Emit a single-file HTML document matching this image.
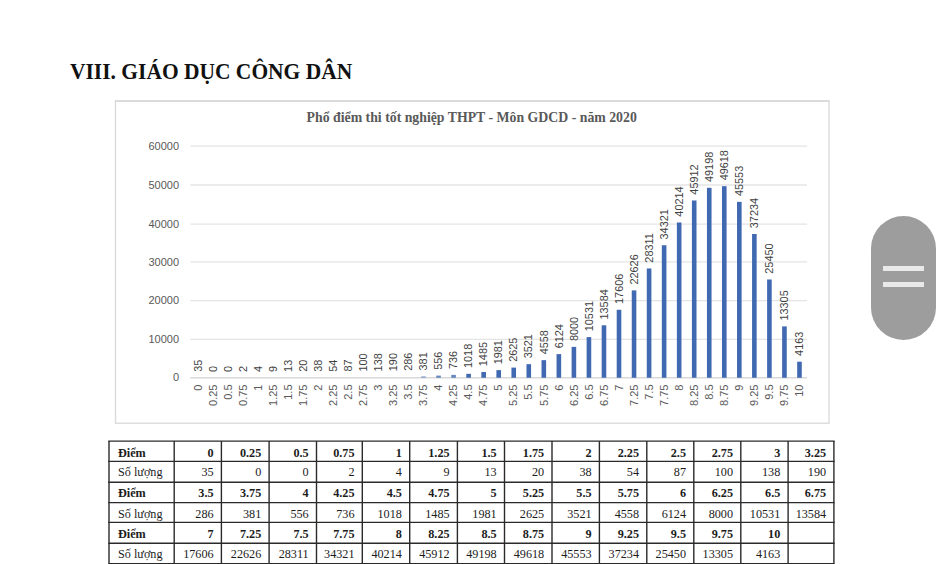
<!DOCTYPE html>
<html><head><meta charset="utf-8"><title>GDCD</title>
<style>
html,body{margin:0;padding:0;background:#fff;}
body{width:945px;height:564px;position:relative;overflow:hidden;font-family:"Liberation Serif",serif;}
h1{position:absolute;left:70px;top:59px;margin:0;font-family:"Liberation Serif",serif;font-weight:bold;font-size:22.2px;line-height:26px;color:#111;white-space:nowrap;transform-origin:0 0;transform:scaleX(0.968);}
.pill{position:absolute;left:871.4px;top:216px;width:65px;height:123.5px;border-radius:32.5px;background:#9d9d9d;}
.pill i{position:absolute;left:11.5px;width:41.5px;height:5px;background:#e9e9e9;}
</style></head><body>
<h1>VIII. GIÁO DỤC CÔNG DÂN</h1>
<svg width="945" height="564" viewBox="0 0 945 564" style="position:absolute;left:0;top:0">
<rect x="115.5" y="101" width="713.5" height="322.3" fill="#ffffff" stroke="none"/>
<line x1="114.8" y1="101" x2="829.7" y2="101" stroke="#cfcfcf" stroke-width="1.6"/>
<line x1="115.5" y1="101" x2="115.5" y2="423.3" stroke="#dadada" stroke-width="1.4"/>
<line x1="829" y1="101" x2="829" y2="423.3" stroke="#dcdcdc" stroke-width="1.4"/>
<line x1="114.8" y1="423.3" x2="829.7" y2="423.3" stroke="#dedede" stroke-width="1.4"/>
<line x1="190.4" y1="377.75" x2="807.0" y2="377.75" stroke="#d8d8d8" stroke-width="1.3"/>
<text x="179" y="380.75" text-anchor="end" font-size="11.0" fill="#595959" font-family="Liberation Sans, sans-serif">0</text>
<line x1="190.4" y1="339.40" x2="807.0" y2="339.40" stroke="#e4e4e4" stroke-width="1.3"/>
<text x="179" y="343.20" text-anchor="end" font-size="11.0" fill="#595959" font-family="Liberation Sans, sans-serif">10000</text>
<line x1="190.4" y1="300.55" x2="807.0" y2="300.55" stroke="#e4e4e4" stroke-width="1.3"/>
<text x="179" y="304.35" text-anchor="end" font-size="11.0" fill="#595959" font-family="Liberation Sans, sans-serif">20000</text>
<line x1="190.4" y1="261.95" x2="807.0" y2="261.95" stroke="#e4e4e4" stroke-width="1.3"/>
<text x="179" y="265.75" text-anchor="end" font-size="11.0" fill="#595959" font-family="Liberation Sans, sans-serif">30000</text>
<line x1="190.4" y1="224.10" x2="807.0" y2="224.10" stroke="#e4e4e4" stroke-width="1.3"/>
<text x="179" y="227.90" text-anchor="end" font-size="11.0" fill="#595959" font-family="Liberation Sans, sans-serif">40000</text>
<line x1="190.4" y1="185.00" x2="807.0" y2="185.00" stroke="#e4e4e4" stroke-width="1.3"/>
<text x="179" y="188.80" text-anchor="end" font-size="11.0" fill="#595959" font-family="Liberation Sans, sans-serif">50000</text>
<line x1="190.4" y1="146.07" x2="807.0" y2="146.07" stroke="#e4e4e4" stroke-width="1.3"/>
<text x="179" y="149.87" text-anchor="end" font-size="11.0" fill="#595959" font-family="Liberation Sans, sans-serif">60000</text>
<text transform="translate(201.62,371.81) rotate(-90)" font-size="10.9" fill="#404040" font-family="Liberation Sans, sans-serif">35</text>
<text transform="translate(201.62,384.5) rotate(-90)" text-anchor="end" font-size="11.0" fill="#595959" font-family="Liberation Sans, sans-serif">0</text>
<text transform="translate(216.66,371.95) rotate(-90)" font-size="10.9" fill="#404040" font-family="Liberation Sans, sans-serif">0</text>
<text transform="translate(216.66,384.5) rotate(-90)" text-anchor="end" font-size="11.0" fill="#595959" font-family="Liberation Sans, sans-serif">0.25</text>
<text transform="translate(231.70,371.95) rotate(-90)" font-size="10.9" fill="#404040" font-family="Liberation Sans, sans-serif">0</text>
<text transform="translate(231.70,384.5) rotate(-90)" text-anchor="end" font-size="11.0" fill="#595959" font-family="Liberation Sans, sans-serif">0.5</text>
<text transform="translate(246.74,371.94) rotate(-90)" font-size="10.9" fill="#404040" font-family="Liberation Sans, sans-serif">2</text>
<text transform="translate(246.74,384.5) rotate(-90)" text-anchor="end" font-size="11.0" fill="#595959" font-family="Liberation Sans, sans-serif">0.75</text>
<text transform="translate(261.78,371.93) rotate(-90)" font-size="10.9" fill="#404040" font-family="Liberation Sans, sans-serif">4</text>
<text transform="translate(261.78,384.5) rotate(-90)" text-anchor="end" font-size="11.0" fill="#595959" font-family="Liberation Sans, sans-serif">1</text>
<text transform="translate(276.81,371.92) rotate(-90)" font-size="10.9" fill="#404040" font-family="Liberation Sans, sans-serif">9</text>
<text transform="translate(276.81,384.5) rotate(-90)" text-anchor="end" font-size="11.0" fill="#595959" font-family="Liberation Sans, sans-serif">1.25</text>
<text transform="translate(291.85,371.90) rotate(-90)" font-size="10.9" fill="#404040" font-family="Liberation Sans, sans-serif">13</text>
<text transform="translate(291.85,384.5) rotate(-90)" text-anchor="end" font-size="11.0" fill="#595959" font-family="Liberation Sans, sans-serif">1.5</text>
<text transform="translate(306.89,371.87) rotate(-90)" font-size="10.9" fill="#404040" font-family="Liberation Sans, sans-serif">20</text>
<text transform="translate(306.89,384.5) rotate(-90)" text-anchor="end" font-size="11.0" fill="#595959" font-family="Liberation Sans, sans-serif">1.75</text>
<text transform="translate(321.93,371.80) rotate(-90)" font-size="10.9" fill="#404040" font-family="Liberation Sans, sans-serif">38</text>
<text transform="translate(321.93,384.5) rotate(-90)" text-anchor="end" font-size="11.0" fill="#595959" font-family="Liberation Sans, sans-serif">2</text>
<text transform="translate(336.97,371.74) rotate(-90)" font-size="10.9" fill="#404040" font-family="Liberation Sans, sans-serif">54</text>
<text transform="translate(336.97,384.5) rotate(-90)" text-anchor="end" font-size="11.0" fill="#595959" font-family="Liberation Sans, sans-serif">2.25</text>
<text transform="translate(352.01,371.61) rotate(-90)" font-size="10.9" fill="#404040" font-family="Liberation Sans, sans-serif">87</text>
<text transform="translate(352.01,384.5) rotate(-90)" text-anchor="end" font-size="11.0" fill="#595959" font-family="Liberation Sans, sans-serif">2.5</text>
<text transform="translate(367.05,371.56) rotate(-90)" font-size="10.9" fill="#404040" font-family="Liberation Sans, sans-serif">100</text>
<text transform="translate(367.05,384.5) rotate(-90)" text-anchor="end" font-size="11.0" fill="#595959" font-family="Liberation Sans, sans-serif">2.75</text>
<text transform="translate(382.09,371.42) rotate(-90)" font-size="10.9" fill="#404040" font-family="Liberation Sans, sans-serif">138</text>
<text transform="translate(382.09,384.5) rotate(-90)" text-anchor="end" font-size="11.0" fill="#595959" font-family="Liberation Sans, sans-serif">3</text>
<text transform="translate(397.13,371.22) rotate(-90)" font-size="10.9" fill="#404040" font-family="Liberation Sans, sans-serif">190</text>
<text transform="translate(397.13,384.5) rotate(-90)" text-anchor="end" font-size="11.0" fill="#595959" font-family="Liberation Sans, sans-serif">3.25</text>
<text transform="translate(412.17,370.85) rotate(-90)" font-size="10.9" fill="#404040" font-family="Liberation Sans, sans-serif">286</text>
<text transform="translate(412.17,384.5) rotate(-90)" text-anchor="end" font-size="11.0" fill="#595959" font-family="Liberation Sans, sans-serif">3.5</text>
<rect x="421.20" y="376.28" width="4.6" height="1.47" fill="#4169b1" fill-opacity="0.55"/>
<text transform="translate(427.20,370.48) rotate(-90)" font-size="10.9" fill="#404040" font-family="Liberation Sans, sans-serif">381</text>
<text transform="translate(427.20,384.5) rotate(-90)" text-anchor="end" font-size="11.0" fill="#595959" font-family="Liberation Sans, sans-serif">3.75</text>
<rect x="436.24" y="375.60" width="4.6" height="2.15" fill="#4169b1" fill-opacity="0.8"/>
<text transform="translate(442.24,369.80) rotate(-90)" font-size="10.9" fill="#404040" font-family="Liberation Sans, sans-serif">556</text>
<text transform="translate(442.24,384.5) rotate(-90)" text-anchor="end" font-size="11.0" fill="#595959" font-family="Liberation Sans, sans-serif">4</text>
<rect x="451.28" y="374.91" width="4.6" height="2.84" fill="#4169b1" fill-opacity="0.8"/>
<text transform="translate(457.28,369.11) rotate(-90)" font-size="10.9" fill="#404040" font-family="Liberation Sans, sans-serif">736</text>
<text transform="translate(457.28,384.5) rotate(-90)" text-anchor="end" font-size="11.0" fill="#595959" font-family="Liberation Sans, sans-serif">4.25</text>
<rect x="466.32" y="373.82" width="4.6" height="3.93" fill="#4169b1" fill-opacity="1"/>
<text transform="translate(472.32,368.02) rotate(-90)" font-size="10.9" fill="#404040" font-family="Liberation Sans, sans-serif">1018</text>
<text transform="translate(472.32,384.5) rotate(-90)" text-anchor="end" font-size="11.0" fill="#595959" font-family="Liberation Sans, sans-serif">4.5</text>
<rect x="481.36" y="372.02" width="4.6" height="5.73" fill="#4169b1" fill-opacity="1"/>
<text transform="translate(487.36,366.22) rotate(-90)" font-size="10.9" fill="#404040" font-family="Liberation Sans, sans-serif">1485</text>
<text transform="translate(487.36,384.5) rotate(-90)" text-anchor="end" font-size="11.0" fill="#595959" font-family="Liberation Sans, sans-serif">4.75</text>
<rect x="496.40" y="370.10" width="4.6" height="7.65" fill="#4169b1" fill-opacity="1"/>
<text transform="translate(502.40,364.30) rotate(-90)" font-size="10.9" fill="#404040" font-family="Liberation Sans, sans-serif">1981</text>
<text transform="translate(502.40,384.5) rotate(-90)" text-anchor="end" font-size="11.0" fill="#595959" font-family="Liberation Sans, sans-serif">5</text>
<rect x="511.44" y="367.61" width="4.6" height="10.14" fill="#4169b1" fill-opacity="1"/>
<text transform="translate(517.44,361.81) rotate(-90)" font-size="10.9" fill="#404040" font-family="Liberation Sans, sans-serif">2625</text>
<text transform="translate(517.44,384.5) rotate(-90)" text-anchor="end" font-size="11.0" fill="#595959" font-family="Liberation Sans, sans-serif">5.25</text>
<rect x="526.48" y="364.16" width="4.6" height="13.59" fill="#4169b1" fill-opacity="1"/>
<text transform="translate(532.48,358.36) rotate(-90)" font-size="10.9" fill="#404040" font-family="Liberation Sans, sans-serif">3521</text>
<text transform="translate(532.48,384.5) rotate(-90)" text-anchor="end" font-size="11.0" fill="#595959" font-family="Liberation Sans, sans-serif">5.5</text>
<rect x="541.52" y="360.15" width="4.6" height="17.60" fill="#4169b1" fill-opacity="1"/>
<text transform="translate(547.52,354.35) rotate(-90)" font-size="10.9" fill="#404040" font-family="Liberation Sans, sans-serif">4558</text>
<text transform="translate(547.52,384.5) rotate(-90)" text-anchor="end" font-size="11.0" fill="#595959" font-family="Liberation Sans, sans-serif">5.75</text>
<rect x="556.56" y="354.11" width="4.6" height="23.64" fill="#4169b1" fill-opacity="1"/>
<text transform="translate(562.56,348.31) rotate(-90)" font-size="10.9" fill="#404040" font-family="Liberation Sans, sans-serif">6124</text>
<text transform="translate(562.56,384.5) rotate(-90)" text-anchor="end" font-size="11.0" fill="#595959" font-family="Liberation Sans, sans-serif">6</text>
<rect x="571.60" y="346.86" width="4.6" height="30.89" fill="#4169b1" fill-opacity="1"/>
<text transform="translate(577.60,341.06) rotate(-90)" font-size="10.9" fill="#404040" font-family="Liberation Sans, sans-serif">8000</text>
<text transform="translate(577.60,384.5) rotate(-90)" text-anchor="end" font-size="11.0" fill="#595959" font-family="Liberation Sans, sans-serif">6.25</text>
<rect x="586.63" y="337.09" width="4.6" height="40.66" fill="#4169b1" fill-opacity="1"/>
<text transform="translate(592.63,331.29) rotate(-90)" font-size="10.9" fill="#404040" font-family="Liberation Sans, sans-serif">10531</text>
<text transform="translate(592.63,384.5) rotate(-90)" text-anchor="end" font-size="11.0" fill="#595959" font-family="Liberation Sans, sans-serif">6.5</text>
<rect x="601.67" y="325.30" width="4.6" height="52.45" fill="#4169b1" fill-opacity="1"/>
<text transform="translate(607.67,319.50) rotate(-90)" font-size="10.9" fill="#404040" font-family="Liberation Sans, sans-serif">13584</text>
<text transform="translate(607.67,384.5) rotate(-90)" text-anchor="end" font-size="11.0" fill="#595959" font-family="Liberation Sans, sans-serif">6.75</text>
<rect x="616.71" y="309.77" width="4.6" height="67.98" fill="#4169b1" fill-opacity="1"/>
<text transform="translate(622.71,303.97) rotate(-90)" font-size="10.9" fill="#404040" font-family="Liberation Sans, sans-serif">17606</text>
<text transform="translate(622.71,384.5) rotate(-90)" text-anchor="end" font-size="11.0" fill="#595959" font-family="Liberation Sans, sans-serif">7</text>
<rect x="631.75" y="290.39" width="4.6" height="87.36" fill="#4169b1" fill-opacity="1"/>
<text transform="translate(637.75,284.59) rotate(-90)" font-size="10.9" fill="#404040" font-family="Liberation Sans, sans-serif">22626</text>
<text transform="translate(637.75,384.5) rotate(-90)" text-anchor="end" font-size="11.0" fill="#595959" font-family="Liberation Sans, sans-serif">7.25</text>
<rect x="646.79" y="268.44" width="4.6" height="109.31" fill="#4169b1" fill-opacity="1"/>
<text transform="translate(652.79,262.64) rotate(-90)" font-size="10.9" fill="#404040" font-family="Liberation Sans, sans-serif">28311</text>
<text transform="translate(652.79,384.5) rotate(-90)" text-anchor="end" font-size="11.0" fill="#595959" font-family="Liberation Sans, sans-serif">7.5</text>
<rect x="661.83" y="245.24" width="4.6" height="132.51" fill="#4169b1" fill-opacity="1"/>
<text transform="translate(667.83,239.44) rotate(-90)" font-size="10.9" fill="#404040" font-family="Liberation Sans, sans-serif">34321</text>
<text transform="translate(667.83,384.5) rotate(-90)" text-anchor="end" font-size="11.0" fill="#595959" font-family="Liberation Sans, sans-serif">7.75</text>
<rect x="676.87" y="222.48" width="4.6" height="155.27" fill="#4169b1" fill-opacity="1"/>
<text transform="translate(682.87,216.68) rotate(-90)" font-size="10.9" fill="#404040" font-family="Liberation Sans, sans-serif">40214</text>
<text transform="translate(682.87,384.5) rotate(-90)" text-anchor="end" font-size="11.0" fill="#595959" font-family="Liberation Sans, sans-serif">8</text>
<rect x="691.91" y="200.48" width="4.6" height="177.27" fill="#4169b1" fill-opacity="1"/>
<text transform="translate(697.91,194.68) rotate(-90)" font-size="10.9" fill="#404040" font-family="Liberation Sans, sans-serif">45912</text>
<text transform="translate(697.91,384.5) rotate(-90)" text-anchor="end" font-size="11.0" fill="#595959" font-family="Liberation Sans, sans-serif">8.25</text>
<rect x="706.95" y="187.80" width="4.6" height="189.95" fill="#4169b1" fill-opacity="1"/>
<text transform="translate(712.95,182.00) rotate(-90)" font-size="10.9" fill="#404040" font-family="Liberation Sans, sans-serif">49198</text>
<text transform="translate(712.95,384.5) rotate(-90)" text-anchor="end" font-size="11.0" fill="#595959" font-family="Liberation Sans, sans-serif">8.5</text>
<rect x="721.99" y="186.17" width="4.6" height="191.58" fill="#4169b1" fill-opacity="1"/>
<text transform="translate(727.99,180.37) rotate(-90)" font-size="10.9" fill="#404040" font-family="Liberation Sans, sans-serif">49618</text>
<text transform="translate(727.99,384.5) rotate(-90)" text-anchor="end" font-size="11.0" fill="#595959" font-family="Liberation Sans, sans-serif">8.75</text>
<rect x="737.02" y="201.87" width="4.6" height="175.88" fill="#4169b1" fill-opacity="1"/>
<text transform="translate(743.02,196.07) rotate(-90)" font-size="10.9" fill="#404040" font-family="Liberation Sans, sans-serif">45553</text>
<text transform="translate(743.02,384.5) rotate(-90)" text-anchor="end" font-size="11.0" fill="#595959" font-family="Liberation Sans, sans-serif">9</text>
<rect x="752.06" y="233.99" width="4.6" height="143.76" fill="#4169b1" fill-opacity="1"/>
<text transform="translate(758.06,228.19) rotate(-90)" font-size="10.9" fill="#404040" font-family="Liberation Sans, sans-serif">37234</text>
<text transform="translate(758.06,384.5) rotate(-90)" text-anchor="end" font-size="11.0" fill="#595959" font-family="Liberation Sans, sans-serif">9.25</text>
<rect x="767.10" y="279.49" width="4.6" height="98.26" fill="#4169b1" fill-opacity="1"/>
<text transform="translate(773.10,273.69) rotate(-90)" font-size="10.9" fill="#404040" font-family="Liberation Sans, sans-serif">25450</text>
<text transform="translate(773.10,384.5) rotate(-90)" text-anchor="end" font-size="11.0" fill="#595959" font-family="Liberation Sans, sans-serif">9.5</text>
<rect x="782.14" y="326.38" width="4.6" height="51.37" fill="#4169b1" fill-opacity="1"/>
<text transform="translate(788.14,320.58) rotate(-90)" font-size="10.9" fill="#404040" font-family="Liberation Sans, sans-serif">13305</text>
<text transform="translate(788.14,384.5) rotate(-90)" text-anchor="end" font-size="11.0" fill="#595959" font-family="Liberation Sans, sans-serif">9.75</text>
<rect x="797.18" y="361.68" width="4.6" height="16.07" fill="#4169b1" fill-opacity="1"/>
<text transform="translate(803.18,355.88) rotate(-90)" font-size="10.9" fill="#404040" font-family="Liberation Sans, sans-serif">4163</text>
<text transform="translate(803.18,384.5) rotate(-90)" text-anchor="end" font-size="11.0" fill="#595959" font-family="Liberation Sans, sans-serif">10</text>
<text x="471.7" y="122.2" text-anchor="middle" font-size="13.8" font-weight="bold" fill="#595959" font-family="Liberation Serif, serif">Phổ điểm thi tốt nghiệp THPT - Môn GDCD - năm 2020</text>
</svg>
<svg width="945" height="564" viewBox="0 0 945 564" style="position:absolute;left:0;top:0">
<line x1="108.3" y1="441.10" x2="834.6" y2="441.10" stroke="#2a2a2a" stroke-width="1.4"/>
<line x1="108.3" y1="461.40" x2="834.6" y2="461.40" stroke="#2a2a2a" stroke-width="1.4"/>
<line x1="108.3" y1="482.30" x2="834.6" y2="482.30" stroke="#2a2a2a" stroke-width="1.4"/>
<line x1="108.3" y1="502.60" x2="834.6" y2="502.60" stroke="#2a2a2a" stroke-width="1.4"/>
<line x1="108.3" y1="522.40" x2="834.6" y2="522.40" stroke="#2a2a2a" stroke-width="1.4"/>
<line x1="108.3" y1="543.20" x2="834.6" y2="543.20" stroke="#2a2a2a" stroke-width="1.4"/>
<line x1="108.3" y1="563.60" x2="834.6" y2="563.60" stroke="#2a2a2a" stroke-width="1.4"/>
<line x1="109.00" y1="441.1" x2="109.00" y2="563.60" stroke="#2a2a2a" stroke-width="1.4"/>
<line x1="174.20" y1="441.1" x2="174.20" y2="563.60" stroke="#2a2a2a" stroke-width="1.4"/>
<line x1="221.40" y1="441.1" x2="221.40" y2="563.60" stroke="#2a2a2a" stroke-width="1.4"/>
<line x1="269.10" y1="441.1" x2="269.10" y2="563.60" stroke="#2a2a2a" stroke-width="1.4"/>
<line x1="316.50" y1="441.1" x2="316.50" y2="563.60" stroke="#2a2a2a" stroke-width="1.4"/>
<line x1="362.30" y1="441.1" x2="362.30" y2="563.60" stroke="#2a2a2a" stroke-width="1.4"/>
<line x1="409.70" y1="441.1" x2="409.70" y2="563.60" stroke="#2a2a2a" stroke-width="1.4"/>
<line x1="457.40" y1="441.1" x2="457.40" y2="563.60" stroke="#2a2a2a" stroke-width="1.4"/>
<line x1="504.50" y1="441.1" x2="504.50" y2="563.60" stroke="#2a2a2a" stroke-width="1.4"/>
<line x1="552.00" y1="441.1" x2="552.00" y2="563.60" stroke="#2a2a2a" stroke-width="1.4"/>
<line x1="599.40" y1="441.1" x2="599.40" y2="563.60" stroke="#2a2a2a" stroke-width="1.4"/>
<line x1="646.80" y1="441.1" x2="646.80" y2="563.60" stroke="#2a2a2a" stroke-width="1.4"/>
<line x1="693.80" y1="441.1" x2="693.80" y2="563.60" stroke="#2a2a2a" stroke-width="1.4"/>
<line x1="740.80" y1="441.1" x2="740.80" y2="563.60" stroke="#2a2a2a" stroke-width="1.4"/>
<line x1="788.10" y1="441.1" x2="788.10" y2="563.60" stroke="#2a2a2a" stroke-width="1.4"/>
<line x1="833.90" y1="441.1" x2="833.90" y2="563.60" stroke="#2a2a2a" stroke-width="1.4"/>
<text x="118.00" y="456.70" font-size="12.2" font-weight="bold" fill="#1c1c1c" font-family="Liberation Serif, serif">Điểm</text>
<text x="213.60" y="456.70" text-anchor="end" font-size="12.2" font-weight="bold" fill="#1c1c1c" font-family="Liberation Serif, serif">0</text>
<text x="261.30" y="456.70" text-anchor="end" font-size="12.2" font-weight="bold" fill="#1c1c1c" font-family="Liberation Serif, serif">0.25</text>
<text x="308.70" y="456.70" text-anchor="end" font-size="12.2" font-weight="bold" fill="#1c1c1c" font-family="Liberation Serif, serif">0.5</text>
<text x="354.50" y="456.70" text-anchor="end" font-size="12.2" font-weight="bold" fill="#1c1c1c" font-family="Liberation Serif, serif">0.75</text>
<text x="401.90" y="456.70" text-anchor="end" font-size="12.2" font-weight="bold" fill="#1c1c1c" font-family="Liberation Serif, serif">1</text>
<text x="449.60" y="456.70" text-anchor="end" font-size="12.2" font-weight="bold" fill="#1c1c1c" font-family="Liberation Serif, serif">1.25</text>
<text x="496.70" y="456.70" text-anchor="end" font-size="12.2" font-weight="bold" fill="#1c1c1c" font-family="Liberation Serif, serif">1.5</text>
<text x="544.20" y="456.70" text-anchor="end" font-size="12.2" font-weight="bold" fill="#1c1c1c" font-family="Liberation Serif, serif">1.75</text>
<text x="591.60" y="456.70" text-anchor="end" font-size="12.2" font-weight="bold" fill="#1c1c1c" font-family="Liberation Serif, serif">2</text>
<text x="639.00" y="456.70" text-anchor="end" font-size="12.2" font-weight="bold" fill="#1c1c1c" font-family="Liberation Serif, serif">2.25</text>
<text x="686.00" y="456.70" text-anchor="end" font-size="12.2" font-weight="bold" fill="#1c1c1c" font-family="Liberation Serif, serif">2.5</text>
<text x="733.00" y="456.70" text-anchor="end" font-size="12.2" font-weight="bold" fill="#1c1c1c" font-family="Liberation Serif, serif">2.75</text>
<text x="780.30" y="456.70" text-anchor="end" font-size="12.2" font-weight="bold" fill="#1c1c1c" font-family="Liberation Serif, serif">3</text>
<text x="826.10" y="456.70" text-anchor="end" font-size="12.2" font-weight="bold" fill="#1c1c1c" font-family="Liberation Serif, serif">3.25</text>
<text x="118.00" y="476.30" font-size="12.2"  fill="#1c1c1c" font-family="Liberation Serif, serif">Số lượng</text>
<text x="213.60" y="476.30" text-anchor="end" font-size="12.2"  fill="#1c1c1c" font-family="Liberation Serif, serif">35</text>
<text x="261.30" y="476.30" text-anchor="end" font-size="12.2"  fill="#1c1c1c" font-family="Liberation Serif, serif">0</text>
<text x="308.70" y="476.30" text-anchor="end" font-size="12.2"  fill="#1c1c1c" font-family="Liberation Serif, serif">0</text>
<text x="354.50" y="476.30" text-anchor="end" font-size="12.2"  fill="#1c1c1c" font-family="Liberation Serif, serif">2</text>
<text x="401.90" y="476.30" text-anchor="end" font-size="12.2"  fill="#1c1c1c" font-family="Liberation Serif, serif">4</text>
<text x="449.60" y="476.30" text-anchor="end" font-size="12.2"  fill="#1c1c1c" font-family="Liberation Serif, serif">9</text>
<text x="496.70" y="476.30" text-anchor="end" font-size="12.2"  fill="#1c1c1c" font-family="Liberation Serif, serif">13</text>
<text x="544.20" y="476.30" text-anchor="end" font-size="12.2"  fill="#1c1c1c" font-family="Liberation Serif, serif">20</text>
<text x="591.60" y="476.30" text-anchor="end" font-size="12.2"  fill="#1c1c1c" font-family="Liberation Serif, serif">38</text>
<text x="639.00" y="476.30" text-anchor="end" font-size="12.2"  fill="#1c1c1c" font-family="Liberation Serif, serif">54</text>
<text x="686.00" y="476.30" text-anchor="end" font-size="12.2"  fill="#1c1c1c" font-family="Liberation Serif, serif">87</text>
<text x="733.00" y="476.30" text-anchor="end" font-size="12.2"  fill="#1c1c1c" font-family="Liberation Serif, serif">100</text>
<text x="780.30" y="476.30" text-anchor="end" font-size="12.2"  fill="#1c1c1c" font-family="Liberation Serif, serif">138</text>
<text x="826.10" y="476.30" text-anchor="end" font-size="12.2"  fill="#1c1c1c" font-family="Liberation Serif, serif">190</text>
<text x="118.00" y="496.90" font-size="12.2" font-weight="bold" fill="#1c1c1c" font-family="Liberation Serif, serif">Điểm</text>
<text x="213.60" y="496.90" text-anchor="end" font-size="12.2" font-weight="bold" fill="#1c1c1c" font-family="Liberation Serif, serif">3.5</text>
<text x="261.30" y="496.90" text-anchor="end" font-size="12.2" font-weight="bold" fill="#1c1c1c" font-family="Liberation Serif, serif">3.75</text>
<text x="308.70" y="496.90" text-anchor="end" font-size="12.2" font-weight="bold" fill="#1c1c1c" font-family="Liberation Serif, serif">4</text>
<text x="354.50" y="496.90" text-anchor="end" font-size="12.2" font-weight="bold" fill="#1c1c1c" font-family="Liberation Serif, serif">4.25</text>
<text x="401.90" y="496.90" text-anchor="end" font-size="12.2" font-weight="bold" fill="#1c1c1c" font-family="Liberation Serif, serif">4.5</text>
<text x="449.60" y="496.90" text-anchor="end" font-size="12.2" font-weight="bold" fill="#1c1c1c" font-family="Liberation Serif, serif">4.75</text>
<text x="496.70" y="496.90" text-anchor="end" font-size="12.2" font-weight="bold" fill="#1c1c1c" font-family="Liberation Serif, serif">5</text>
<text x="544.20" y="496.90" text-anchor="end" font-size="12.2" font-weight="bold" fill="#1c1c1c" font-family="Liberation Serif, serif">5.25</text>
<text x="591.60" y="496.90" text-anchor="end" font-size="12.2" font-weight="bold" fill="#1c1c1c" font-family="Liberation Serif, serif">5.5</text>
<text x="639.00" y="496.90" text-anchor="end" font-size="12.2" font-weight="bold" fill="#1c1c1c" font-family="Liberation Serif, serif">5.75</text>
<text x="686.00" y="496.90" text-anchor="end" font-size="12.2" font-weight="bold" fill="#1c1c1c" font-family="Liberation Serif, serif">6</text>
<text x="733.00" y="496.90" text-anchor="end" font-size="12.2" font-weight="bold" fill="#1c1c1c" font-family="Liberation Serif, serif">6.25</text>
<text x="780.30" y="496.90" text-anchor="end" font-size="12.2" font-weight="bold" fill="#1c1c1c" font-family="Liberation Serif, serif">6.5</text>
<text x="826.10" y="496.90" text-anchor="end" font-size="12.2" font-weight="bold" fill="#1c1c1c" font-family="Liberation Serif, serif">6.75</text>
<text x="118.00" y="517.80" font-size="12.2"  fill="#1c1c1c" font-family="Liberation Serif, serif">Số lượng</text>
<text x="213.60" y="517.80" text-anchor="end" font-size="12.2"  fill="#1c1c1c" font-family="Liberation Serif, serif">286</text>
<text x="261.30" y="517.80" text-anchor="end" font-size="12.2"  fill="#1c1c1c" font-family="Liberation Serif, serif">381</text>
<text x="308.70" y="517.80" text-anchor="end" font-size="12.2"  fill="#1c1c1c" font-family="Liberation Serif, serif">556</text>
<text x="354.50" y="517.80" text-anchor="end" font-size="12.2"  fill="#1c1c1c" font-family="Liberation Serif, serif">736</text>
<text x="401.90" y="517.80" text-anchor="end" font-size="12.2"  fill="#1c1c1c" font-family="Liberation Serif, serif">1018</text>
<text x="449.60" y="517.80" text-anchor="end" font-size="12.2"  fill="#1c1c1c" font-family="Liberation Serif, serif">1485</text>
<text x="496.70" y="517.80" text-anchor="end" font-size="12.2"  fill="#1c1c1c" font-family="Liberation Serif, serif">1981</text>
<text x="544.20" y="517.80" text-anchor="end" font-size="12.2"  fill="#1c1c1c" font-family="Liberation Serif, serif">2625</text>
<text x="591.60" y="517.80" text-anchor="end" font-size="12.2"  fill="#1c1c1c" font-family="Liberation Serif, serif">3521</text>
<text x="639.00" y="517.80" text-anchor="end" font-size="12.2"  fill="#1c1c1c" font-family="Liberation Serif, serif">4558</text>
<text x="686.00" y="517.80" text-anchor="end" font-size="12.2"  fill="#1c1c1c" font-family="Liberation Serif, serif">6124</text>
<text x="733.00" y="517.80" text-anchor="end" font-size="12.2"  fill="#1c1c1c" font-family="Liberation Serif, serif">8000</text>
<text x="780.30" y="517.80" text-anchor="end" font-size="12.2"  fill="#1c1c1c" font-family="Liberation Serif, serif">10531</text>
<text x="826.10" y="517.80" text-anchor="end" font-size="12.2"  fill="#1c1c1c" font-family="Liberation Serif, serif">13584</text>
<text x="118.00" y="537.60" font-size="12.2" font-weight="bold" fill="#1c1c1c" font-family="Liberation Serif, serif">Điểm</text>
<text x="213.60" y="537.60" text-anchor="end" font-size="12.2" font-weight="bold" fill="#1c1c1c" font-family="Liberation Serif, serif">7</text>
<text x="261.30" y="537.60" text-anchor="end" font-size="12.2" font-weight="bold" fill="#1c1c1c" font-family="Liberation Serif, serif">7.25</text>
<text x="308.70" y="537.60" text-anchor="end" font-size="12.2" font-weight="bold" fill="#1c1c1c" font-family="Liberation Serif, serif">7.5</text>
<text x="354.50" y="537.60" text-anchor="end" font-size="12.2" font-weight="bold" fill="#1c1c1c" font-family="Liberation Serif, serif">7.75</text>
<text x="401.90" y="537.60" text-anchor="end" font-size="12.2" font-weight="bold" fill="#1c1c1c" font-family="Liberation Serif, serif">8</text>
<text x="449.60" y="537.60" text-anchor="end" font-size="12.2" font-weight="bold" fill="#1c1c1c" font-family="Liberation Serif, serif">8.25</text>
<text x="496.70" y="537.60" text-anchor="end" font-size="12.2" font-weight="bold" fill="#1c1c1c" font-family="Liberation Serif, serif">8.5</text>
<text x="544.20" y="537.60" text-anchor="end" font-size="12.2" font-weight="bold" fill="#1c1c1c" font-family="Liberation Serif, serif">8.75</text>
<text x="591.60" y="537.60" text-anchor="end" font-size="12.2" font-weight="bold" fill="#1c1c1c" font-family="Liberation Serif, serif">9</text>
<text x="639.00" y="537.60" text-anchor="end" font-size="12.2" font-weight="bold" fill="#1c1c1c" font-family="Liberation Serif, serif">9.25</text>
<text x="686.00" y="537.60" text-anchor="end" font-size="12.2" font-weight="bold" fill="#1c1c1c" font-family="Liberation Serif, serif">9.5</text>
<text x="733.00" y="537.60" text-anchor="end" font-size="12.2" font-weight="bold" fill="#1c1c1c" font-family="Liberation Serif, serif">9.75</text>
<text x="780.30" y="537.60" text-anchor="end" font-size="12.2" font-weight="bold" fill="#1c1c1c" font-family="Liberation Serif, serif">10</text>
<text x="118.00" y="558.20" font-size="12.2"  fill="#1c1c1c" font-family="Liberation Serif, serif">Số lượng</text>
<text x="213.60" y="558.20" text-anchor="end" font-size="12.2"  fill="#1c1c1c" font-family="Liberation Serif, serif">17606</text>
<text x="261.30" y="558.20" text-anchor="end" font-size="12.2"  fill="#1c1c1c" font-family="Liberation Serif, serif">22626</text>
<text x="308.70" y="558.20" text-anchor="end" font-size="12.2"  fill="#1c1c1c" font-family="Liberation Serif, serif">28311</text>
<text x="354.50" y="558.20" text-anchor="end" font-size="12.2"  fill="#1c1c1c" font-family="Liberation Serif, serif">34321</text>
<text x="401.90" y="558.20" text-anchor="end" font-size="12.2"  fill="#1c1c1c" font-family="Liberation Serif, serif">40214</text>
<text x="449.60" y="558.20" text-anchor="end" font-size="12.2"  fill="#1c1c1c" font-family="Liberation Serif, serif">45912</text>
<text x="496.70" y="558.20" text-anchor="end" font-size="12.2"  fill="#1c1c1c" font-family="Liberation Serif, serif">49198</text>
<text x="544.20" y="558.20" text-anchor="end" font-size="12.2"  fill="#1c1c1c" font-family="Liberation Serif, serif">49618</text>
<text x="591.60" y="558.20" text-anchor="end" font-size="12.2"  fill="#1c1c1c" font-family="Liberation Serif, serif">45553</text>
<text x="639.00" y="558.20" text-anchor="end" font-size="12.2"  fill="#1c1c1c" font-family="Liberation Serif, serif">37234</text>
<text x="686.00" y="558.20" text-anchor="end" font-size="12.2"  fill="#1c1c1c" font-family="Liberation Serif, serif">25450</text>
<text x="733.00" y="558.20" text-anchor="end" font-size="12.2"  fill="#1c1c1c" font-family="Liberation Serif, serif">13305</text>
<text x="780.30" y="558.20" text-anchor="end" font-size="12.2"  fill="#1c1c1c" font-family="Liberation Serif, serif">4163</text>
</svg>
<div class="pill"><i style="top:50px"></i><i style="top:65.8px"></i></div>
</body></html>
